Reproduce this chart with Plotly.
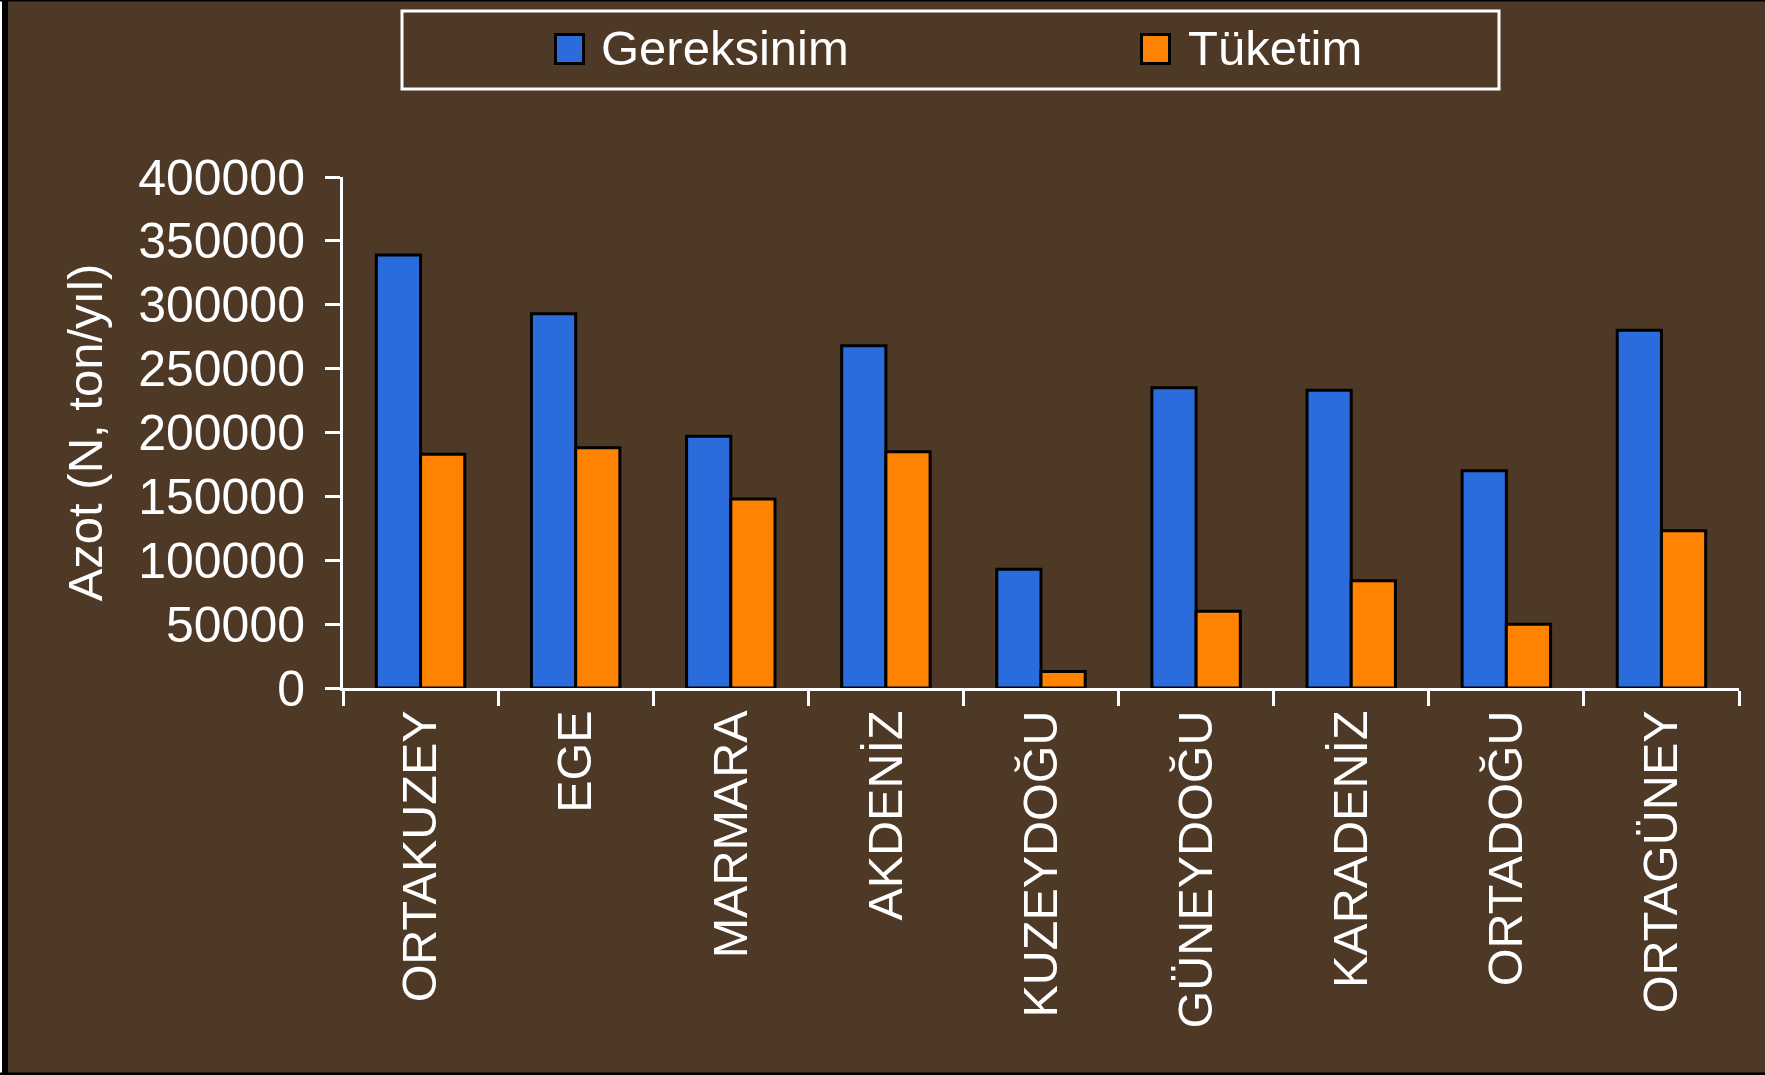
import plotly.graph_objects as go

# ---- data ----
regions = ["ORTAKUZEY", "EGE", "MARMARA", "AKDENİZ", "KUZEYDOĞU",
           "GÜNEYDOĞU", "KARADENİZ", "ORTADOĞU", "ORTAGÜNEY"]
gereksinim = [339000, 293000, 197000, 268000, 93000, 235000, 233000, 170000, 280000]
tuketim = [183000, 188000, 148000, 185000, 13000, 60000, 84000, 50000, 123000]
series_names = ["Gereksinim", "Tüketim"]
y_tick_values = [0, 50000, 100000, 150000, 200000, 250000, 300000, 350000, 400000]
y_title = "Azot (N, ton/yıl)"

# ---- style ----
W, H = 1765, 1075
ML, MR, MT, MB = 343, 26, 177, 387
PW, PH = W - ML - MR, H - MT - MB
FONT = "Liberation Sans, Arial, sans-serif"
BG = "rgb(78,56,38)"
BLUE = "#2a6cdc"
ORANGE = "#ff8200"


def px(x):
    return (x - ML) / PW


def py(y):
    return (H - MB - y) / PH


fig = go.Figure()
fig.add_trace(go.Bar(x=regions, y=gereksinim, name=series_names[0],
                     marker=dict(color=BLUE, line=dict(color="black", width=3))))
fig.add_trace(go.Bar(x=regions, y=tuketim, name=series_names[1],
                     marker=dict(color=ORANGE, line=dict(color="black", width=3))))

shapes = [
    # frame
    dict(type="rect", xref="paper", yref="paper", x0=px(0), x1=px(2), y0=py(0), y1=py(H),
         fillcolor="white", line=dict(width=0)),
    dict(type="rect", xref="paper", yref="paper", x0=px(2), x1=px(8), y0=py(0), y1=py(H),
         fillcolor="black", line=dict(width=0)),
    dict(type="rect", xref="paper", yref="paper", x0=px(0), x1=px(W), y0=py(H - 2.5), y1=py(H),
         fillcolor="black", line=dict(width=0)),
    dict(type="rect", xref="paper", yref="paper", x0=px(0), x1=px(W), y0=py(0), y1=py(1.5),
         fillcolor="black", line=dict(width=0)),
    # legend box
    dict(type="rect", xref="paper", yref="paper", x0=px(402), x1=px(1499), y0=py(11), y1=py(89),
         fillcolor="rgba(0,0,0,0)", line=dict(color="white", width=3)),
    dict(type="rect", xref="paper", yref="paper", x0=px(555.5), x1=px(583.5), y0=py(34.5), y1=py(63.5),
         fillcolor=BLUE, line=dict(color="black", width=3)),
    dict(type="rect", xref="paper", yref="paper", x0=px(1141.5), x1=px(1169.5), y0=py(34.5), y1=py(63.5),
         fillcolor=ORANGE, line=dict(color="black", width=3)),
]

annotations = [
    dict(text=series_names[0], xref="paper", yref="paper", x=px(599), y=py(48),
         xanchor="left", yanchor="middle", showarrow=False,
         font=dict(family=FONT, size=49, color="white")),
    dict(text=series_names[1], xref="paper", yref="paper", x=px(1186), y=py(48),
         xanchor="left", yanchor="middle", showarrow=False,
         font=dict(family=FONT, size=49, color="white")),
]

fig.update_layout(
    width=W, height=H,
    margin=dict(l=ML, r=MR, t=MT, b=MB, autoexpand=False),
    paper_bgcolor=BG, plot_bgcolor="rgba(0,0,0,0)",
    barmode="group", bargap=0.43, bargroupgap=0,
    showlegend=False,
    font=dict(family=FONT, color="white", size=48),
    shapes=shapes, annotations=annotations,
    xaxis=dict(
        type="category", tickson="boundaries", ticks="outside", ticklen=15, tickwidth=3,
        tickcolor="white", showline=True, linecolor="white", linewidth=3,
        showgrid=False, zeroline=False, tickangle=-90,
        tickfont=dict(family=FONT, size=48.5, color="white"), automargin=False,
    ),
    yaxis=dict(
        range=[0, 400000], tickvals=y_tick_values, tickformat="d",
        ticks="outside", ticklen=15, tickwidth=3, tickcolor="white",
        showline=True, linecolor="white", linewidth=3, showgrid=False, zeroline=False,
        tickfont=dict(family=FONT, size=50, color="white"), ticklabelstandoff=10,
        title=dict(text=y_title, font=dict(family=FONT, size=49, color="white"), standoff=20),
        automargin=False,
    ),
)

fig.write_html("out.html")
